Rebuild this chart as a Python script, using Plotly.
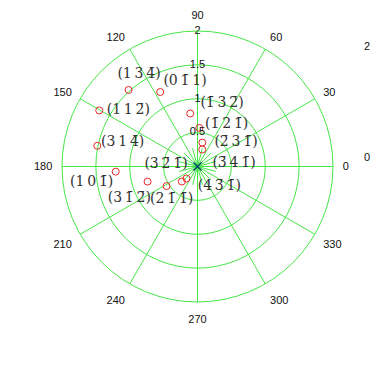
import plotly.graph_objects as go

# data points (r, theta in degrees)
pt_r = [1.52, 1.23, 1.67, 0.79, 0.57, 0.36, 0.26, 1.51, 1.21, 0.77, 0.54, 0.32, 0.24]
pt_theta = [132, 116.6, 150.3, 97.8, 87.3, 78.6, 74.4, 168.3, 183.6, 196.8, 212.3, 223.9, 227.5]

B = "\u0304"
S = "\u2009"
lab_text = [
    "(1" + S + "3" + S + "4" + B + ")",
    "(0" + S + "1" + B + S + "1)",
    "(1" + B + S + "3" + S + "2" + B + ")",
    "(1" + B + S + "2" + S + "1" + B + ")",
    "(2" + B + S + "3" + S + "1" + B + ")",
    "(3" + B + S + "4" + S + "1" + B + ")",
    "(4" + S + "3" + B + S + "1" + B + ")",
    "(1" + S + "1" + S + "2" + B + ")",
    "(3" + S + "1" + S + "4" + B + ")",
    "(3" + S + "2" + B + S + "1" + B + ")",
    "(1" + S + "0" + S + "1" + B + ")",
    "(3" + S + "1" + B + S + "2" + B + ")",
    "(2" + S + "1" + B + S + "1" + B + ")",
]
lab_r = [1.615, 1.261, 0.991, 0.761, 0.668, 0.541, 0.432, 1.318, 1.159, 0.466, 1.580, 1.11, 0.624]
lab_theta = [122.3, 98.4, 68.6, 55.5, 31.7, 5.0, 318.2, 140.8, 162.4, 175.5, 188.7, 205.0, 232.4]

ang_ticks = list(range(0, 360, 30))
ang_labels = [str(a) for a in ang_ticks]
rad_ticks = [0.5, 1, 1.5, 2]
rad_labels = ["0.5", "1", "1.5", "2"]

star_angles = [15, 45, 75, 105, 135, 165, 195, 225, 255, 285, 315, 345]
star_len = 0.28

GREEN = "rgb(70,230,70)"

fig = go.Figure()

# center star lines
sr, st = [], []
for a in star_angles:
    sr += [0, star_len, None]
    st += [a, a, None]
fig.add_trace(go.Scatterpolar(r=sr, theta=st, mode="lines",
                              line=dict(color=GREEN, width=1), hoverinfo="skip"))

fig.add_trace(go.Scatterpolar(r=pt_r, theta=pt_theta, mode="markers",
                              marker=dict(symbol="circle-open", size=7,
                                          color="rgb(230,40,40)", line=dict(width=1))))

fig.add_trace(go.Scatterpolar(r=[0], theta=[0], mode="markers",
                              marker=dict(symbol="x-thin-open", size=8,
                                          color="rgb(0,70,110)", line=dict(width=1.5))))

fig.add_trace(go.Scatterpolar(r=lab_r, theta=lab_theta, mode="text", text=lab_text,
                              textfont=dict(family="DejaVu Serif", size=14, color="#333")))

fig.add_trace(go.Scatterpolar(r=rad_ticks, theta=[90] * 4, mode="text", text=rad_labels,
                              textfont=dict(family="Liberation Sans", size=11, color="#111")))

fig.update_layout(
    width=384, height=370,
    margin=dict(l=0, r=0, t=0, b=0),
    paper_bgcolor="white",
    showlegend=False,
    polar=dict(
        domain=dict(x=[62 / 384, 333 / 384], y=[68 / 370, 339 / 370]),
        bgcolor="white",
        radialaxis=dict(range=[0, 2], tickvals=rad_ticks, showticklabels=False,
                        ticks="", angle=90, showline=False,
                        gridcolor=GREEN, gridwidth=1),
        angularaxis=dict(rotation=0, direction="counterclockwise",
                         tickmode="array", tickvals=ang_ticks, ticktext=ang_labels,
                         ticks="outside", ticklen=7, tickcolor="rgba(255,255,255,0)",
                         linecolor=GREEN, linewidth=1,
                         gridcolor=GREEN, gridwidth=1,
                         tickfont=dict(family="Liberation Sans", size=11, color="#111")),
    ),
    annotations=[
        dict(x=372 / 384, y=1 - 38 / 370, xref="paper", yref="paper", text="2",
             showarrow=False, font=dict(family="Liberation Sans", size=11, color="#111")),
        dict(x=372 / 384, y=1 - 157 / 370, xref="paper", yref="paper", text="0",
             showarrow=False, font=dict(family="Liberation Sans", size=11, color="#111")),
    ],
)

fig.write_html("out.html")
